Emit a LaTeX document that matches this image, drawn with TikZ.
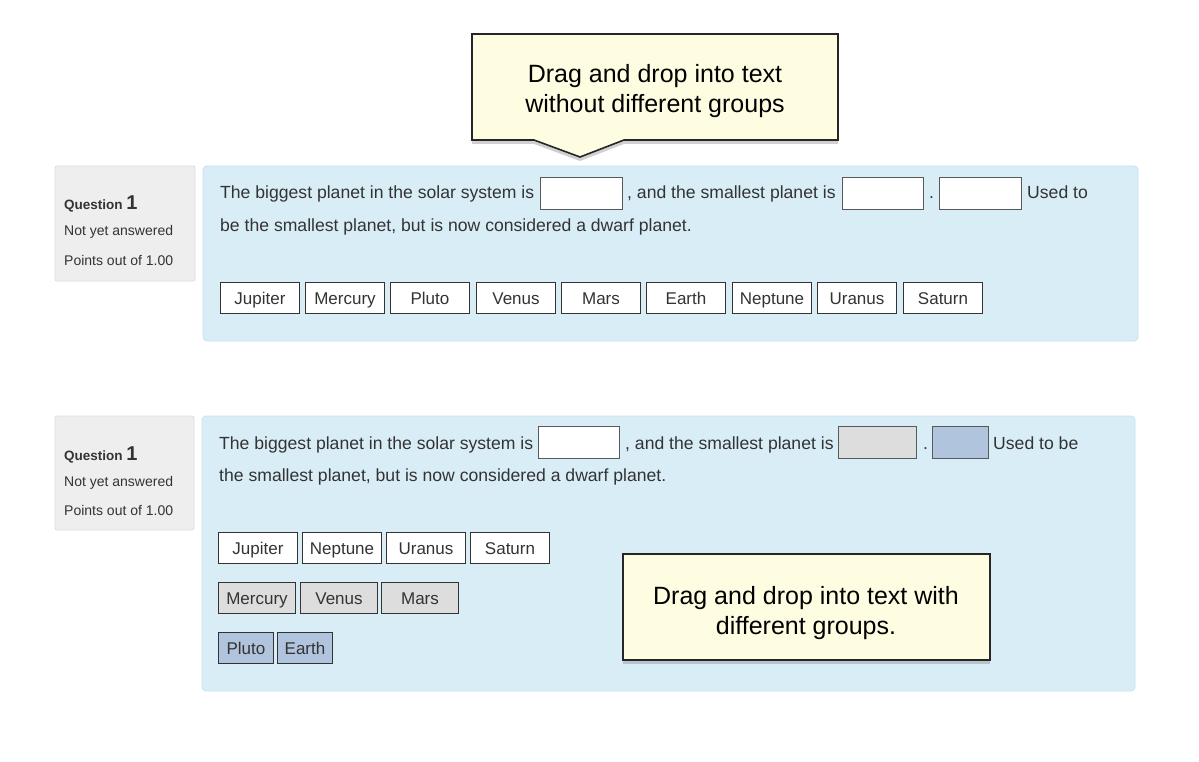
\documentclass[tikz,border=0pt]{standalone}
\usepackage{fontspec}
\setmainfont{Liberation Sans}
\usetikzlibrary{shadows}
\definecolor{bodytxt}{HTML}{333333}
\definecolor{infobg}{HTML}{D9EDF7}
\definecolor{infoline}{HTML}{C6E3F1}
\definecolor{qbg}{HTML}{EEEEEE}
\definecolor{qline}{HTML}{DDDDDD}
\definecolor{calloutbg}{HTML}{FFFDE1}
\definecolor{grpgray}{HTML}{DDDDDD}
\definecolor{grpblue}{HTML}{B0C4DE}
\tikzset{
  qbox/.style={fill=qbg, draw=qline, line width=0.8pt, rounded corners=2pt},
  infobox/.style={fill=infobg, draw=infoline, line width=0.8pt, rounded corners=4pt},
  txt/.style={inner sep=0pt, anchor=base west, text=bodytxt, font=\fontsize{17.6}{21}\selectfont},
  small/.style={inner sep=0pt, anchor=base west, text=bodytxt, font=\fontsize{14}{17}\selectfont},
  drop/.style={draw=black!65, fill=white, line width=0.9pt, inner sep=0pt, anchor=north west, minimum height=32pt},
  item/.style={draw=bodytxt, fill=white, line width=1pt, inner sep=0pt, anchor=north west,
     minimum height=31pt, text=bodytxt, text height=13pt, text depth=0pt,
     font=\fontsize{17}{20}\selectfont},
  callout/.style={fill=calloutbg, draw=black!85, line width=1.6pt,
     drop shadow={shadow xshift=0pt, shadow yshift=-4pt, opacity=0.3, fill=black!60}},
  callouttxt/.style={inner sep=0pt, anchor=base, align=center, text=black,
     font=\fontsize{25}{30}\selectfont},
}
\begin{document}
\begin{tikzpicture}[x=1pt,y=-1pt]
\useasboundingbox[fill=white] (0,0) rectangle (1199,762);

% ---------- Question 1 (without groups) ----------
\draw[qbox] (55,166) rectangle (195,281);
\node[small, font=\bfseries\fontsize{13.5}{16}\selectfont] (qa1) at (64,210) {Question \fontsize{20}{24}\selectfont 1};
\node[small] (qa2) at (64,236) {Not yet answered};
\node[small] (qa3) at (64,265) {Points out of 1.00};

\draw[infobox] (203,166) rectangle (1138,341);
\node[txt] (a1) at (220,199) {The biggest planet in the solar system is};
\node[drop, minimum width=82pt] (ad1) at (540,177) {};
\node[txt] (a2) at (627,199) {, and the smallest planet is};
\node[drop, minimum width=81pt] (ad2) at (842,177) {};
\node[txt] (a3) at (929,199) {.};
\node[drop, minimum width=82pt] (ad3) at (939,177) {};
\node[txt] (a4) at (1027,199) {Used to};
\node[txt] (a5) at (220,231) {be the smallest planet, but is now considered a dwarf planet.};

\node[item, minimum width=79pt] (i1) at (220,282) {Jupiter};
\node[item, minimum width=79pt] (i2) at (305,282) {Mercury};
\node[item, minimum width=79pt] (i3) at (390,282) {Pluto};
\node[item, minimum width=79pt] (i4) at (476,282) {Venus};
\node[item, minimum width=79pt] (i5) at (561,282) {Mars};
\node[item, minimum width=79pt] (i6) at (646,282) {Earth};
\node[item, minimum width=79pt] (i7) at (732,282) {Neptune};
\node[item, minimum width=79pt] (i8) at (817,282) {Uranus};
\node[item, minimum width=79pt] (i9) at (903,282) {Saturn};

% callout 1
\draw[callout] (472,34) -- (838,34) -- (838,140) -- (624,140) -- (580,157) -- (534,140) -- (472,140) -- cycle;
\node[callouttxt] (c1) at (655,113) {Drag and drop into text\\without different groups};

% ---------- Question 2 (with groups) ----------
\draw[qbox] (55,416) rectangle (194,530);
\node[small, font=\bfseries\fontsize{13.5}{16}\selectfont] (qb1) at (64,460) {Question \fontsize{20}{24}\selectfont 1};
\node[small] (qb2) at (64,486) {Not yet answered};
\node[small] (qb3) at (64,515) {Points out of 1.00};

\draw[infobox] (202,416) rectangle (1135,691);
\node[txt] (b1) at (219,449) {The biggest planet in the solar system is};
\node[drop, minimum width=81pt] (bd1) at (538,426) {};
\node[txt] (b2) at (625,449) {, and the smallest planet is};
\node[drop, minimum width=78pt, fill=grpgray] (bd2) at (838,426) {};
\node[txt] (b3) at (923,449) {.};
\node[drop, minimum width=56pt, fill=grpblue] (bd3) at (932,426) {};
\node[txt] (b4) at (993,449) {Used to be};
\node[txt] (b5) at (219,481) {the smallest planet, but is now considered a dwarf planet.};

\node[item, minimum width=79pt] (j1) at (218,532) {Jupiter};
\node[item, minimum width=79pt] (j2) at (302,532) {Neptune};
\node[item, minimum width=79pt] (j3) at (386,532) {Uranus};
\node[item, minimum width=79pt] (j4) at (470,532) {Saturn};

\node[item, minimum width=77pt, fill=grpgray] (k1) at (218,582) {Mercury};
\node[item, minimum width=77pt, fill=grpgray] (k2) at (300,582) {Venus};
\node[item, minimum width=77pt, fill=grpgray] (k3) at (381,582) {Mars};

\node[item, minimum width=55pt, fill=grpblue] (m1) at (218,632) {Pluto};
\node[item, minimum width=55pt, fill=grpblue] (m2) at (277,632) {Earth};

% callout 2
\draw[callout] (623,554) rectangle (990,660);
\node[callouttxt] (c2) at (806,634) {Drag and drop into text with\\different groups.};
\end{tikzpicture}
\end{document}
